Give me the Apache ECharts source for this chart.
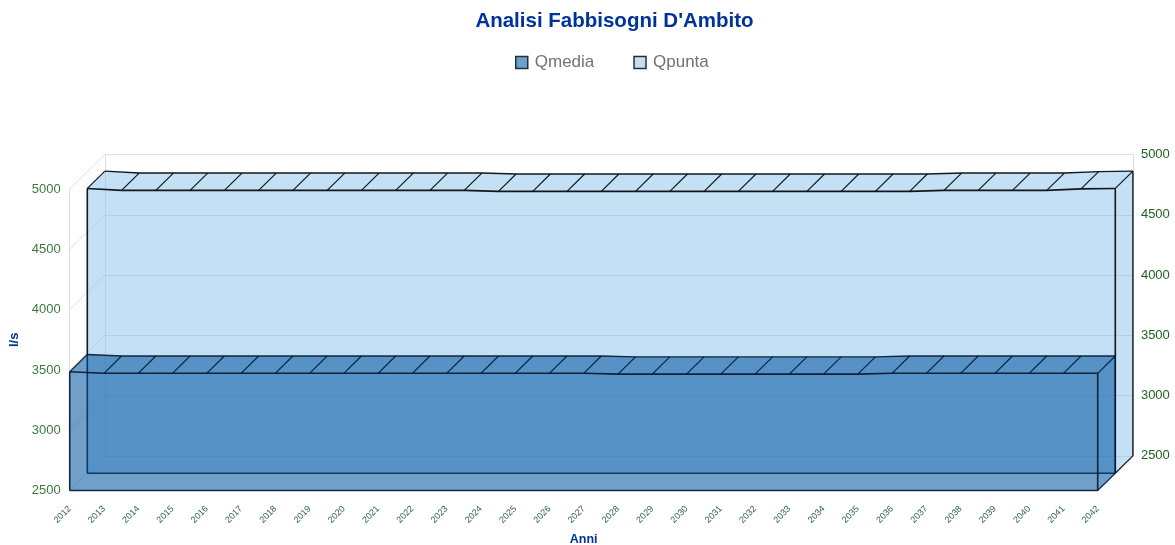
<!DOCTYPE html>
<html>
<head>
<meta charset="utf-8">
<style>html,body{margin:0;padding:0;background:#fff}#c{width:1175px;height:545px}</style>
<script src="https://cdn.jsdelivr.net/npm/echarts@6/dist/echarts.min.js"></script>
</head>
<body>
<div id="c"></div>
<script>
const years = ['2012','2013','2014','2015','2016','2017','2018','2019','2020','2021','2022','2023','2024','2025','2026','2027','2028','2029','2030','2031','2032','2033','2034','2035','2036','2037','2038','2039','2040','2041','2042'];
const qmedia = [3485,3472,3472,3472,3472,3472,3472,3472,3472,3472,3472,3472,3472,3472,3472,3472,3465,3465,3465,3465,3465,3465,3465,3465,3472,3472,3472,3472,3472,3472,3472];
const qpunta = [4862,4846,4846,4846,4846,4846,4846,4846,4846,4846,4846,4846,4838,4838,4838,4838,4838,4838,4838,4838,4838,4838,4838,4838,4838,4846,4846,4846,4846,4858,4862];
const yTicks = [2500,3000,3500,4000,4500,5000];
const yMin = 2500, yMax = 5000, yStep = 500;

const FONT = 'Liberation Sans';
const DX = 17.6, DY = -17.3;

function pt(p, layer) { return [p[0] + DX * layer, p[1] + DY * layer]; }

function prism(values, layer, fill, line) {
  return function (params, api) {
    const i = params.dataIndex, n = values.length;
    const front = k => pt(api.coord([k, values[k]]), layer);
    const back = k => pt(api.coord([k, values[k]]), layer + 1);
    const kids = [];
    const seg = (a, b, w) => kids.push({
      type: 'line', silent: true,
      shape: { x1: a[0], y1: a[1], x2: b[0], y2: b[1] },
      style: { stroke: line, lineWidth: w, fill: null }
    });
    if (i === 0) {
      const fl = pt(api.coord([0, yMin]), layer);
      const fr = pt(api.coord([n - 1, yMin]), layer);
      const silhouette = [fl];
      const frontTop = [], backTop = [];
      for (let k = 0; k < n; k++) { frontTop.push(front(k)); backTop.push(back(k)); }
      silhouette.push(front(0));
      backTop.forEach(p => silhouette.push(p));
      silhouette.push([fr[0] + DX, fr[1] + DY]);
      silhouette.push(fr);
      kids.push({ type: 'polygon', silent: true, shape: { points: silhouette }, style: { fill: fill, stroke: null } });
      kids.push({ type: 'polyline', silent: true, shape: { points: frontTop }, style: { stroke: line, lineWidth: 1.6, fill: null } });
      kids.push({ type: 'polyline', silent: true, shape: { points: backTop }, style: { stroke: line, lineWidth: 1.4, fill: null } });
      seg(fl, fr, 1.6);
      seg(fl, front(0), 1.6);
      seg(fr, front(n - 1), 1.6);
      seg(fr, [fr[0] + DX, fr[1] + DY], 1.2);
      seg([fr[0] + DX, fr[1] + DY], back(n - 1), 1.4);
    }
    seg(front(i), back(i), 1.2);
    return { type: 'group', children: kids };
  };
}

function wallRender(params, api) {
  const v = api.value(0);
  const a = api.coord([0, v]);
  const b = pt(a, 2);
  return { type: 'line', silent: true, shape: { x1: a[0], y1: a[1], x2: b[0], y2: b[1] },
           style: { stroke: '#dcdee8', lineWidth: 1, fill: null } };
}

const chart = echarts.init(document.getElementById('c'), null, { renderer: 'canvas' });
chart.setOption({
  animation: false,
  backgroundColor: '#fff',
  textStyle: { fontFamily: FONT },
  title: {
    text: "Analisi Fabbisogni D'Ambito", left: 609.5, textAlign: 'center', top: 6,
    textStyle: { fontFamily: FONT, fontSize: 20.5, fontWeight: 'bold', color: '#003399' }
  },
  legend: {
    left: 510, top: 49, icon: 'rect', itemWidth: 12, itemHeight: 12, itemGap: 39,
    textStyle: { fontFamily: FONT, fontSize: 17, color: '#727272', padding: [0, 0, 0, 2] },
    data: [
      { name: 'Qmedia', itemStyle: { color: '#6b9fcc', borderColor: '#22303c', borderWidth: 1.5 } },
      { name: 'Qpunta', itemStyle: { color: '#c4dff5', borderColor: '#22303c', borderWidth: 1.5 } }
    ]
  },
  grid: [
    { left: 69.7, top: 189.1, width: 1028, height: 301.4, outerBoundsMode: 'none', containLabel: false },
    { left: 104.9, top: 154.5, width: 1028, height: 301.4, outerBoundsMode: 'none', containLabel: false }
  ],
  xAxis: [
    { type: 'category', gridIndex: 0, data: years, boundaryGap: false,
      axisLine: { show: false }, axisTick: { show: false },
      axisLabel: { interval: 0, rotate: 45, fontSize: 9, margin: 17, color: '#2f5f5f', fontFamily: FONT },
      name: 'Anni', nameLocation: 'middle', nameGap: 43,
      nameTextStyle: { fontFamily: FONT, fontSize: 12.5, fontWeight: 'bold', color: '#003399' } },
    { type: 'category', gridIndex: 1, data: years, boundaryGap: false,
      axisLine: { show: false }, axisTick: { show: false }, axisLabel: { show: false } }
  ],
  yAxis: [
    { type: 'value', gridIndex: 0, min: yMin, max: yMax, interval: yStep,
      axisLine: { show: true, lineStyle: { color: '#dcdee8' } }, axisTick: { show: false }, splitLine: { show: false },
      axisLabel: { fontSize: 13, margin: 9, color: '#3b7a3b', fontFamily: FONT, padding: [2, 0, 0, 0], formatter: v => String(v) },
      name: 'l/s', nameLocation: 'middle', nameRotate: 90, nameGap: 47,
      nameTextStyle: { fontFamily: FONT, fontSize: 13, fontWeight: 'bold', color: '#003399' } },
    { type: 'value', gridIndex: 1, position: 'right', min: yMin, max: yMax, interval: yStep,
      axisLine: { show: true, onZero: false, lineStyle: { color: '#dcdee8' } }, axisTick: { show: false },
      splitLine: { show: true, lineStyle: { color: '#dcdee8', width: 1 } },
      axisLabel: { fontSize: 13, margin: 8, color: '#1f5f1f', fontFamily: FONT, padding: [2, 0, 0, 0], formatter: v => String(v) } },
    { type: 'value', gridIndex: 1, position: 'left', min: yMin, max: yMax, interval: yStep,
      axisLine: { show: true, onZero: false, lineStyle: { color: '#dcdee8' } }, axisTick: { show: false },
      splitLine: { show: false }, axisLabel: { show: false } }
  ],
  series: [
    { name: 'wall', type: 'custom', xAxisIndex: 0, yAxisIndex: 0, silent: true, clip: false,
      data: yTicks.map(v => [v]), encode: { y: 0 }, renderItem: wallRender, tooltip: { show: false } },
    { name: 'Qpunta', type: 'custom', xAxisIndex: 0, yAxisIndex: 0, clip: false,
      itemStyle: { color: '#c4dff5' },
      data: qpunta.map((v, i) => [i, v]), encode: { x: 0, y: 1 },
      renderItem: prism(qpunta, 1, 'rgba(137,193,235,0.5)', 'rgba(10,12,16,0.95)') },
    { name: 'Qmedia', type: 'custom', xAxisIndex: 0, yAxisIndex: 0, clip: false,
      itemStyle: { color: '#6b9fcc' },
      data: qmedia.map((v, i) => [i, v]), encode: { x: 0, y: 1 },
      renderItem: prism(qmedia, 0, 'rgba(0,86,160,0.56)', 'rgba(4,22,45,0.9)') }
  ]
});
</script>
</body>
</html>
